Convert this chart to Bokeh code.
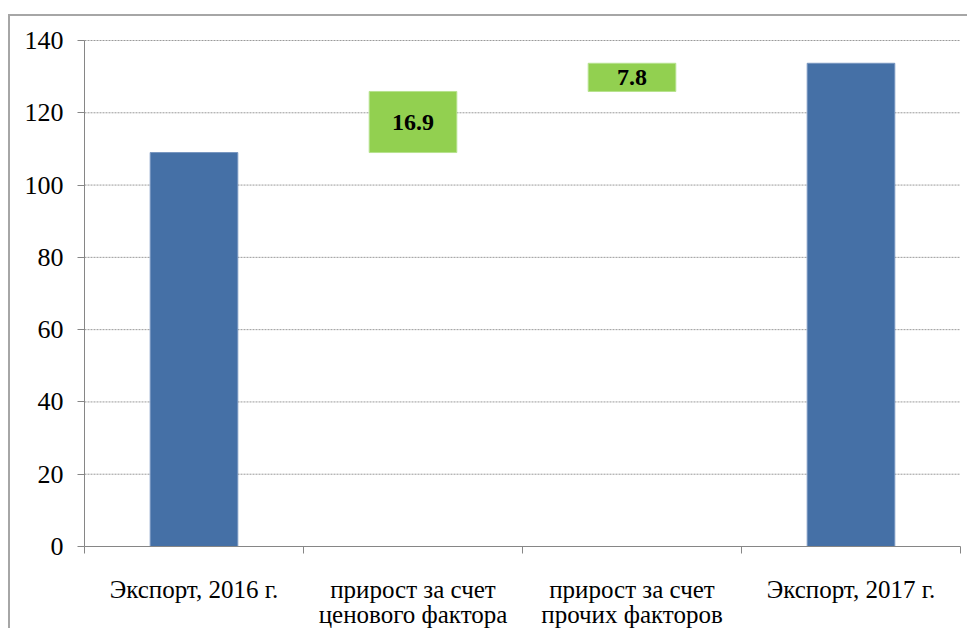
from bokeh.plotting import figure
from bokeh.models import FixedTicker, Range1d, ColumnDataSource, LabelSet, LinearAxis
from bokeh.core.properties import value
from bokeh.embed import file_html
from bokeh.resources import INLINE

categories = ["Экспорт, 2016 г.", "прирост за счет\nценового фактора",
              "прирост за счет\nпрочих факторов", "Экспорт, 2017 г."]
values = [109.0, 16.9, 7.8, 133.7]
kinds = ["total", "delta", "delta", "total"]
y_ticks = [0, 20, 40, 60, 80, 100, 120, 140]

BLUE = "#4570A6"
GREEN = "#92D050"
GRAY = "#868686"
FONT = "Liberation Serif"

# layout (pixels)
W, H = 959, 614
PLOT_L, PLOT_R, PLOT_T, PLOT_B = 74, 9, 24, 84
YMAX = y_ticks[-1]
N = len(categories)
px_x = (W - PLOT_L - PLOT_R) / N
px_y = (H - PLOT_T - PLOT_B) / YMAX

xs, bottoms, tops, colors, lines = [], [], [], [], []
running = 0.0
for i, (v, k) in enumerate(zip(values, kinds)):
    xs.append(i + 0.5)
    if k == "total":
        bottoms.append(0.0)
        tops.append(v)
        running = v
        colors.append(BLUE)
        lines.append("#7896c0")
    else:
        bottoms.append(running)
        tops.append(running + v)
        running += v
        colors.append(GREEN)
        lines.append("#b6e28e")

src = ColumnDataSource(dict(x=xs, bottom=bottoms, top=tops, color=colors, line=lines))

lx, ly, lt = [], [], []
for i, k in enumerate(kinds):
    if k == "delta":
        lx.append(xs[i])
        ly.append((bottoms[i] + tops[i]) / 2)
        lt.append(f"{values[i]:.1f}")
lsrc = ColumnDataSource(dict(x=lx, y=ly, t=lt))

p = figure(width=W, height=H,
           x_range=Range1d(-PLOT_L / px_x, N + PLOT_R / px_x),
           y_range=Range1d(-PLOT_B / px_y, YMAX + PLOT_T / px_y),
           output_backend="svg", toolbar_location=None,
           x_axis_location=None, y_axis_location=None,
           min_border_left=0, min_border_right=0, min_border_top=0, min_border_bottom=0)
p.styles = {"border-left": "2px solid #a6a6a6", "border-top": "2px solid #a6a6a6",
            "margin-top": "14px", "margin-left": "8px"}
p.outline_line_color = None
p.background_fill_color = "white"
p.border_fill_color = "white"
p.grid.grid_line_color = None
p.grid.visible = False

# dotted horizontal grid lines, limited to the plotting area
gy = [t for t in y_ticks if t > 0]
p.segment(x0=[0] * len(gy), x1=[N] * len(gy), y0=gy, y1=gy,
          line_color="#9a9a9a", line_dash="2 1", line_width=1)

p.vbar(x="x", bottom="bottom", top="top", width=0.4, fill_color="color",
       line_color="line", line_width=1, source=src)

p.add_layout(LabelSet(x="x", y="y", text="t", source=lsrc, text_font=FONT,
                      text_font_style="bold", text_font_size="24px", text_align="center",
                      text_baseline="middle", text_color="black"))

# axes fixed at the plotting area's edges
ya = LinearAxis(fixed_location=0, bounds=(0, YMAX), ticker=FixedTicker(ticks=y_ticks))
ya.major_label_overrides = {t: "" for t in y_ticks}
ya.axis_line_color = GRAY
ya.major_tick_line_color = GRAY
ya.major_tick_out = 7
ya.major_tick_in = 0
ya.minor_tick_line_color = None
p.add_layout(ya, "left")

xa = LinearAxis(fixed_location=0, bounds=(0, N),
                ticker=FixedTicker(ticks=xs, minor_ticks=list(range(N + 1))))
xa.major_label_overrides = {x: "" for x in xs}
xa.axis_line_color = GRAY
xa.major_tick_line_color = None
xa.major_tick_out = 0
xa.major_tick_in = 0
xa.minor_tick_line_color = GRAY
xa.minor_tick_out = 7
xa.minor_tick_in = 0
p.add_layout(xa, "below")

# serif tick labels drawn as text glyphs (inside the extended frame)
ysrc = ColumnDataSource(dict(x=[0] * len(y_ticks), y=y_ticks, t=[str(t) for t in y_ticks]))
p.text(x="x", y="y", text="t", source=ysrc, x_offset=-21,
       text_font=value(FONT), text_font_style="normal", text_font_size="26px",
       text_align="right", text_baseline="middle", text_color="black")

line1 = [c.split("\n")[0] for c in categories]
line2 = [c.split("\n")[1] if "\n" in c else "" for c in categories]
c1 = ColumnDataSource(dict(x=xs, y=[-42.5 / px_y] * N, t=line1))
c2 = ColumnDataSource(dict(x=[x for x, t in zip(xs, line2) if t],
                           y=[-68.0 / px_y] * sum(1 for t in line2 if t),
                           t=[t for t in line2 if t]))
for s in (c1, c2):
    p.text(x="x", y="y", text="t", source=s,
           text_font=value(FONT), text_font_style="normal", text_font_size="25px",
           text_align="center", text_baseline="alphabetic", text_color="black")

open("out.html", "w").write(file_html(p, INLINE))
